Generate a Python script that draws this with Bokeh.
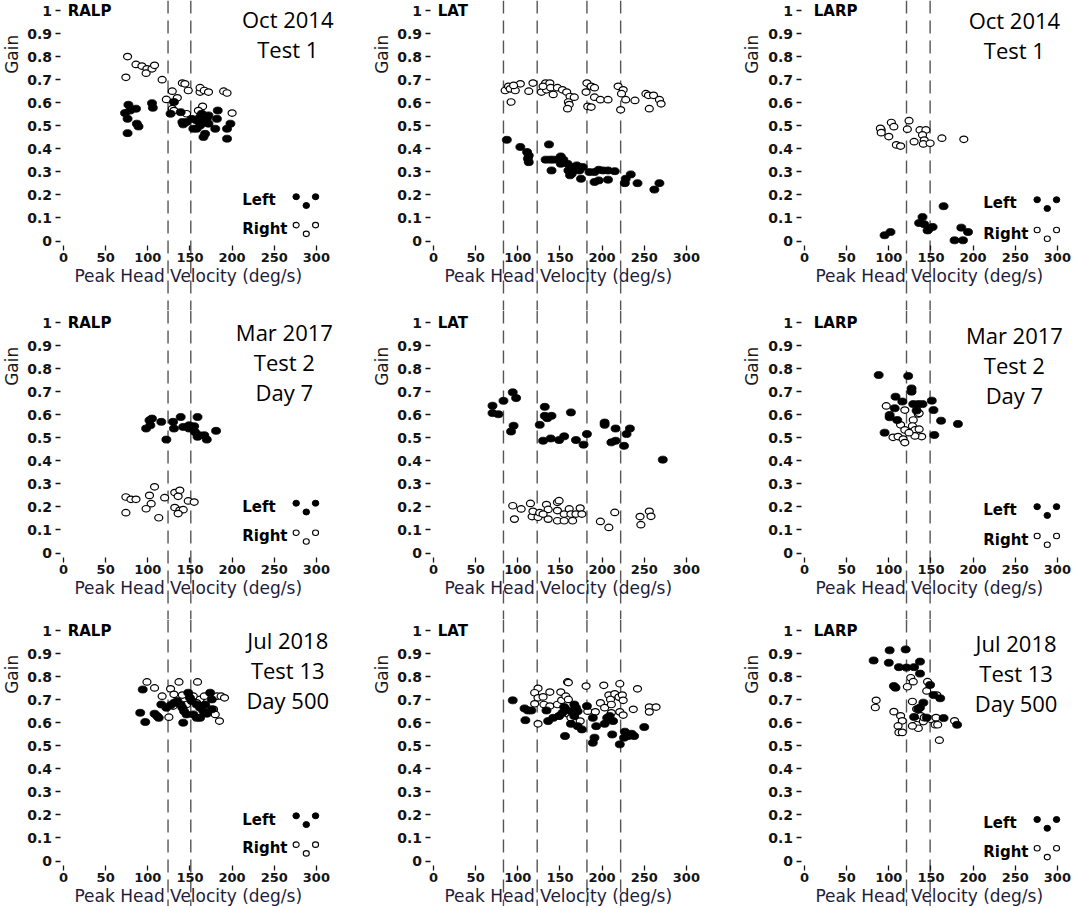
import math
from bokeh.plotting import figure
from bokeh.models import Span, Label, FixedTicker, Range1d, CustomJSTickFormatter
from bokeh.layouts import gridplot
from bokeh.embed import file_html
from bokeh.resources import INLINE

# ---------------- data ----------------
x_ticks = [0, 50, 100, 150, 200, 250, 300]
y_ticks = [0, 0.1, 0.2, 0.3, 0.4, 0.5, 0.6, 0.7, 0.8, 0.9, 1.0]

canal_names = ["RALP", "LAT", "LARP"]
session_lines = [["Oct 2014", "Test 1"],
                 ["Mar 2017", "Test 2", "Day 7"],
                 ["Jul 2018", "Test 13", "Day 500"]]

cut_ralp = [124, 151]
cut_lat = [83, 123, 182, 222]
cut_larp = [121, 149]

# RALP Oct 2014
ralp14_right_x = [76, 86, 93, 99, 98, 105, 108, 74, 117, 122, 129, 135, 129, 131, 141, 144, 148, 146, 162, 162, 167, 172, 165, 160, 190, 194, 200]
ralp14_right_y = [.80, .766, .759, .747, .728, .747, .762, .71, .70, .614, .65, .621, .574, .566, .685, .682, .653, .552, .646, .665, .653, .646, .584, .566, .65, .642, .555]
ralp14_left_x = [77, 73, 76, 79, 86, 87, 89, 76, 105, 106, 127, 131, 139, 141, 146, 142, 154, 158, 162, 166, 170, 162, 164, 168, 166, 180, 182, 183, 194, 198, 194, 152, 158, 172, 172]
ralp14_left_y = [.591, .555, .53, .566, .574, .509, .497, .468, .598, .578, .552, .603, .559, .516, .516, .506, .487, .487, .538, .516, .53, .501, .552, .465, .451, .487, .53, .566, .487, .509, .444, .53, .523, .545, .509]

# LAT Oct 2014
lat14_right_x = [85, 89, 91, 97, 103, 95, 92, 113, 118, 128, 133, 134, 130, 138, 142, 139, 147, 153, 158, 162, 167, 160, 161, 159, 182, 187, 191, 181, 191, 198, 207, 183, 187, 219, 225, 223, 228, 239, 222, 252, 255, 261, 268, 270, 256]
lat14_right_y = [.653, .671, .66, .653, .682, .675, .603, .65, .685, .646, .685, .656, .671, .685, .636, .665, .665, .656, .646, .627, .624, .603, .592, .574, .685, .671, .665, .646, .624, .613, .613, .584, .581, .671, .656, .639, .613, .61, .569, .639, .632, .632, .613, .595, .574]
lat14_left_x = [87, 103, 111, 113, 112, 113, 137, 133, 138, 142, 147, 151, 154, 140, 151, 159, 163, 167, 160, 164, 162, 170, 173, 177, 175, 185, 191, 196, 201, 207, 215, 191, 196, 207, 228, 227, 234, 242, 262, 268]
lat14_left_y = [.439, .408, .386, .371, .357, .342, .419, .353, .353, .353, .353, .367, .353, .306, .335, .335, .321, .321, .306, .292, .285, .328, .306, .321, .27, .299, .299, .309, .306, .306, .303, .256, .263, .266, .27, .251, .289, .251, .223, .251]

# LARP Oct 2014
larp14_right_x = [91, 90, 91, 103, 106, 100, 109, 114, 124, 122, 130, 137, 144, 140, 142, 141, 149, 163, 189]
larp14_right_y = [.482, .489, .47, .514, .496, .453, .417, .412, .522, .485, .431, .482, .482, .46, .438, .421, .424, .446, .441]
larp14_left_x = [95, 102, 140, 136, 142, 146, 152, 148, 165, 186, 194, 178, 188]
larp14_left_y = [.025, .039, .104, .078, .073, .046, .061, .054, .151, .058, .039, .003, .003]

# RALP Mar 2017
ralp17_left_x = [98, 103, 105, 102, 116, 122, 130, 131, 139, 142, 149, 155, 159, 156, 161, 167, 170, 159, 149, 181]
ralp17_left_y = [.54, .554, .583, .576, .569, .492, .569, .54, .59, .547, .554, .55, .59, .525, .511, .511, .492, .504, .54, .53]
ralp17_right_x = [74, 80, 86, 74, 102, 104, 98, 108, 113, 120, 132, 138, 136, 132, 138, 142, 136, 148, 155]
ralp17_right_y = [.243, .233, .233, .175, .25, .214, .192, .287, .153, .24, .262, .272, .246, .197, .185, .188, .171, .226, .221]

# LAT Mar 2017
lat17_left_x = [70, 70, 77, 83, 94, 98, 95, 92, 126, 132, 132, 135, 140, 130, 139, 149, 155, 163, 169, 178, 182, 203, 203, 216, 211, 216, 226, 229, 233, 272]
lat17_left_y = [.639, .607, .602, .66, .697, .672, .552, .527, .556, .634, .595, .585, .595, .487, .497, .49, .506, .61, .49, .47, .516, .566, .556, .54, .48, .487, .465, .516, .54, .405]
lat17_right_x = [94, 96, 104, 115, 117, 118, 124, 126, 134, 136, 136, 130, 147, 149, 147, 147, 155, 155, 161, 163, 165, 169, 174, 176, 198, 208, 215, 245, 246, 256, 258]
lat17_right_y = [.205, .147, .191, .215, .158, .181, .155, .175, .21, .189, .147, .169, .22, .227, .184, .14, .169, .14, .191, .169, .14, .169, .195, .169, .137, .111, .176, .158, .123, .181, .159]

# LARP Mar 2017
larp17_left_x = [88, 123, 127, 127, 108, 116, 129, 135, 140, 151, 153, 107, 101, 101, 133, 110, 162, 182, 95, 154]
larp17_left_y = [.772, .768, .714, .70, .678, .657, .646, .646, .646, .661, .62, .628, .599, .589, .618, .577, .574, .56, .522, .512]
larp17_right_x = [97, 119, 135, 129, 128, 131, 136, 139, 131, 136, 114, 119, 124, 105, 111, 117, 119]
larp17_right_y = [.638, .62, .603, .577, .551, .534, .537, .505, .508, .606, .556, .534, .522, .502, .505, .494, .479]

# RALP Jul 2018
ralp18_right_x = [99, 108, 117, 127, 137, 159, 131, 141, 146, 154, 162, 167, 182, 187, 191, 178, 180, 185, 125, 130, 158, 170]
ralp18_right_y = [.777, .751, .715, .747, .777, .777, .723, .72, .679, .715, .701, .715, .715, .715, .708, .658, .636, .607, .624, .672, .686, .665]
ralp18_left_x = [94, 91, 97, 108, 111, 113, 116, 122, 127, 131, 135, 139, 141, 143, 146, 142, 148, 150, 152, 158, 162, 166, 170, 168, 162, 154, 158, 174, 176, 176]
ralp18_left_y = [.744, .643, .603, .639, .629, .621, .679, .665, .676, .686, .694, .679, .665, .65, .636, .60, .73, .708, .694, .679, .665, .65, .639, .679, .621, .636, .621, .73, .701, .658]

# LAT Jul 2018
lat18_right_x = [124, 120, 124, 130, 138, 151, 159, 160, 120, 131, 138, 147, 152, 157, 160, 124, 149, 159, 167, 181, 202, 208, 210, 215, 220, 221, 224, 225, 183, 192, 198, 203, 211, 221, 225, 211, 237, 242, 256, 256, 264, 174, 163]
lat18_right_y = [.749, .73, .708, .712, .733, .733, .777, .774, .682, .679, .672, .679, .697, .715, .701, .595, .629, .639, .629, .759, .762, .72, .701, .725, .711, .769, .72, .697, .65, .647, .686, .665, .643, .647, .633, .679, .658, .747, .668, .647, .668, .607, .621]
lat18_left_x = [94, 108, 112, 116, 109, 134, 136, 142, 149, 153, 157, 155, 163, 167, 169, 171, 167, 163, 171, 176, 156, 182, 189, 193, 191, 189, 203, 206, 209, 213, 212, 221, 227, 231, 235, 238, 226, 250]
lat18_left_y = [.697, .662, .653, .653, .611, .653, .607, .621, .629, .643, .658, .668, .65, .679, .665, .65, .629, .595, .585, .571, .542, .672, .621, .585, .535, .513, .595, .621, .629, .607, .549, .506, .561, .542, .552, .542, .535, .581]

# LARP Jul 2018
larp18_left_x = [82, 100, 101, 120, 112, 121, 130, 137, 137, 108, 106, 149, 153, 161, 141, 137, 135, 130, 145, 165, 181]
larp18_left_y = [.87, .86, .914, .918, .841, .839, .841, .865, .813, .752, .759, .764, .72, .706, .687, .666, .659, .625, .622, .62, .591]
larp18_right_x = [85, 84, 106, 114, 116, 111, 112, 116, 122, 126, 129, 146, 145, 128, 133, 138, 133, 141, 135, 128, 142, 150, 156, 155, 158, 160, 157, 178]
larp18_right_y = [.697, .666, .648, .63, .608, .586, .558, .558, .756, .795, .778, .778, .738, .692, .659, .63, .591, .605, .576, .586, .622, .615, .622, .591, .591, .524, .72, .608]

# legend glyph pattern (x of the three dots, y offset from the text line)
legend_dot_x = [276, 288, 299]
legend_dot_dy = [0.016, -0.022, 0.016]
legend_text_x = 212
# per panel: (Left text y, Right text y)
legend_rows = {
    (0, 0): (0.176, 0.053), (0, 2): (0.163, 0.032),
    (1, 0): (0.200, 0.072), (1, 2): (0.185, 0.058),
    (2, 0): (0.180, 0.055), (2, 2): (0.164, 0.039),
}
# session text anchor per panel: (x, y of first line)
session_anchor = {
    (0, 0): (266, 0.961), (0, 2): (249, 0.957),
    (1, 0): (262, 0.958), (1, 2): (249, 0.945),
    (2, 0): (266, 0.958), (2, 2): (251, 0.947),
}

panel_data = [
    [(ralp14_left_x, ralp14_left_y, ralp14_right_x, ralp14_right_y),
     (lat14_left_x, lat14_left_y, lat14_right_x, lat14_right_y),
     (larp14_left_x, larp14_left_y, larp14_right_x, larp14_right_y)],
    [(ralp17_left_x, ralp17_left_y, ralp17_right_x, ralp17_right_y),
     (lat17_left_x, lat17_left_y, lat17_right_x, lat17_right_y),
     (larp17_left_x, larp17_left_y, larp17_right_x, larp17_right_y)],
    [(ralp18_left_x, ralp18_left_y, ralp18_right_x, ralp18_right_y),
     (lat18_left_x, lat18_left_y, lat18_right_x, lat18_right_y),
     (larp18_left_x, larp18_left_y, larp18_right_x, larp18_right_y)],
]
cuts = [cut_ralp, cut_lat, cut_larp]

# ---------------- layout geometry ----------------
PX_PER_X = 0.843
col_w = [370, 370, 332]
col_x0 = [63, 63, 64]          # pixel offset of x=0 within each figure
row_h = [310, 309, 287]
row_top = [10, 12, 11]         # px from figure top to y=1
PX_PER_Y = 230.5

INK = "#141414"
TITLE_X = [5, 5, 11]


def make_panel(r, c):
    W, H = col_w[c], row_h[r]
    xs = -col_x0[c] / PX_PER_X
    xe = xs + W / PX_PER_X
    ye = 1 + row_top[r] / PX_PER_Y
    ys = ye - H / PX_PER_Y
    p = figure(width=W, height=H, x_range=Range1d(xs, xe), y_range=Range1d(ys, ye),
               output_backend="svg", toolbar_location=None, min_border=0,
               outline_line_color=None, background_fill_color="white",
               border_fill_color="white")
    p.xgrid.visible = False
    p.ygrid.visible = False

    xa = p.xaxis[0]
    xa.fixed_location = -4 / PX_PER_Y
    xa.ticker = FixedTicker(ticks=x_ticks)
    xa.axis_line_color = None
    xa.major_tick_out = 5
    xa.major_tick_in = 0
    xa.major_tick_line_color = INK
    xa.major_tick_line_width = 1.3
    xa.minor_tick_line_color = None
    xa.major_label_text_font = "DejaVu Sans"
    xa.major_label_text_font_style = "bold"
    xa.major_label_text_font_size = "13px"
    xa.major_label_text_color = INK
    xa.major_label_standoff = 3

    ya = p.yaxis[0]
    ya.fixed_location = -3.0
    ya.ticker = FixedTicker(ticks=y_ticks)
    ya.formatter = CustomJSTickFormatter(code="return String(Math.round(tick * 10) / 10)")
    ya.axis_line_color = None
    ya.major_tick_out = 5
    ya.major_tick_in = 0
    ya.major_tick_line_color = INK
    ya.major_tick_line_width = 1.3
    ya.minor_tick_line_color = None
    ya.major_label_text_font = "DejaVu Sans"
    ya.major_label_text_font_style = "bold"
    ya.major_label_text_font_size = "14px"
    ya.major_label_text_color = INK
    ya.major_label_standoff = 4

    for loc in cuts[c]:
        p.add_layout(Span(location=loc, dimension="height", line_color="#555555",
                          line_width=1.4, line_dash="13 7", level="underlay"))

    lx, ly, rx, ry = panel_data[r][c]
    p.ellipse(x=rx, y=ry, width=8, height=6.5, width_units="screen", height_units="screen",
              fill_color="white", line_color="black", line_width=1.2)
    p.ellipse(x=lx, y=ly, width=9, height=7, width_units="screen", height_units="screen",
              fill_color="black", line_color="black", line_width=0.8)

    # canal title
    p.add_layout(Label(x=TITLE_X[c], y=1.0, text=canal_names[c], text_font="DejaVu Sans",
                       text_font_style="bold", text_font_size="15px", text_color="black",
                       text_align="left", text_baseline="middle"))
    # axis titles
    p.add_layout(Label(x=11, x_units="screen", y=0.81, text="Gain", angle=math.pi / 2,
                       text_font="DejaVu Sans", text_font_size="17px", text_color="#1a1a1a",
                       text_align="center", text_baseline="middle"))
    p.add_layout(Label(x=148, y=-35 / PX_PER_Y, text="Peak Head Velocity (deg/s)",
                       text_font="DejaVu Sans", text_font_size="17px", text_color="#221c3a",
                       text_align="center", text_baseline="middle"))

    if (r, c) in session_anchor:
        sx, sy = session_anchor[(r, c)]
        for i, line in enumerate(session_lines[r]):
            p.add_layout(Label(x=sx, y=sy - i * 0.13, text=line, text_font="Open Sans",
                               text_font_size="22px", text_color="black",
                               text_align="center", text_baseline="middle"))

    if (r, c) in legend_rows:
        ly_left, ly_right = legend_rows[(r, c)]
        p.add_layout(Label(x=legend_text_x, y=ly_left, text="Left", text_font="DejaVu Sans",
                           text_font_style="bold", text_font_size="15px", text_color="black",
                           text_align="left", text_baseline="middle"))
        p.add_layout(Label(x=legend_text_x, y=ly_right, text="Right", text_font="DejaVu Sans",
                           text_font_style="bold", text_font_size="15px", text_color="black",
                           text_align="left", text_baseline="middle"))
        p.ellipse(x=legend_dot_x, y=[ly_left + d for d in legend_dot_dy], width=6.5, height=6,
                  width_units="screen", height_units="screen",
                  fill_color="black", line_color="black")
        p.ellipse(x=legend_dot_x, y=[ly_right + d for d in legend_dot_dy], width=6, height=5.5,
                  width_units="screen", height_units="screen",
                  fill_color="white", line_color="black", line_width=1.1)
    return p


grid = [[make_panel(r, c) for c in range(3)] for r in range(3)]
layout = gridplot(grid, toolbar_location=None)

open("out.html", "w").write(file_html(layout, INLINE))
